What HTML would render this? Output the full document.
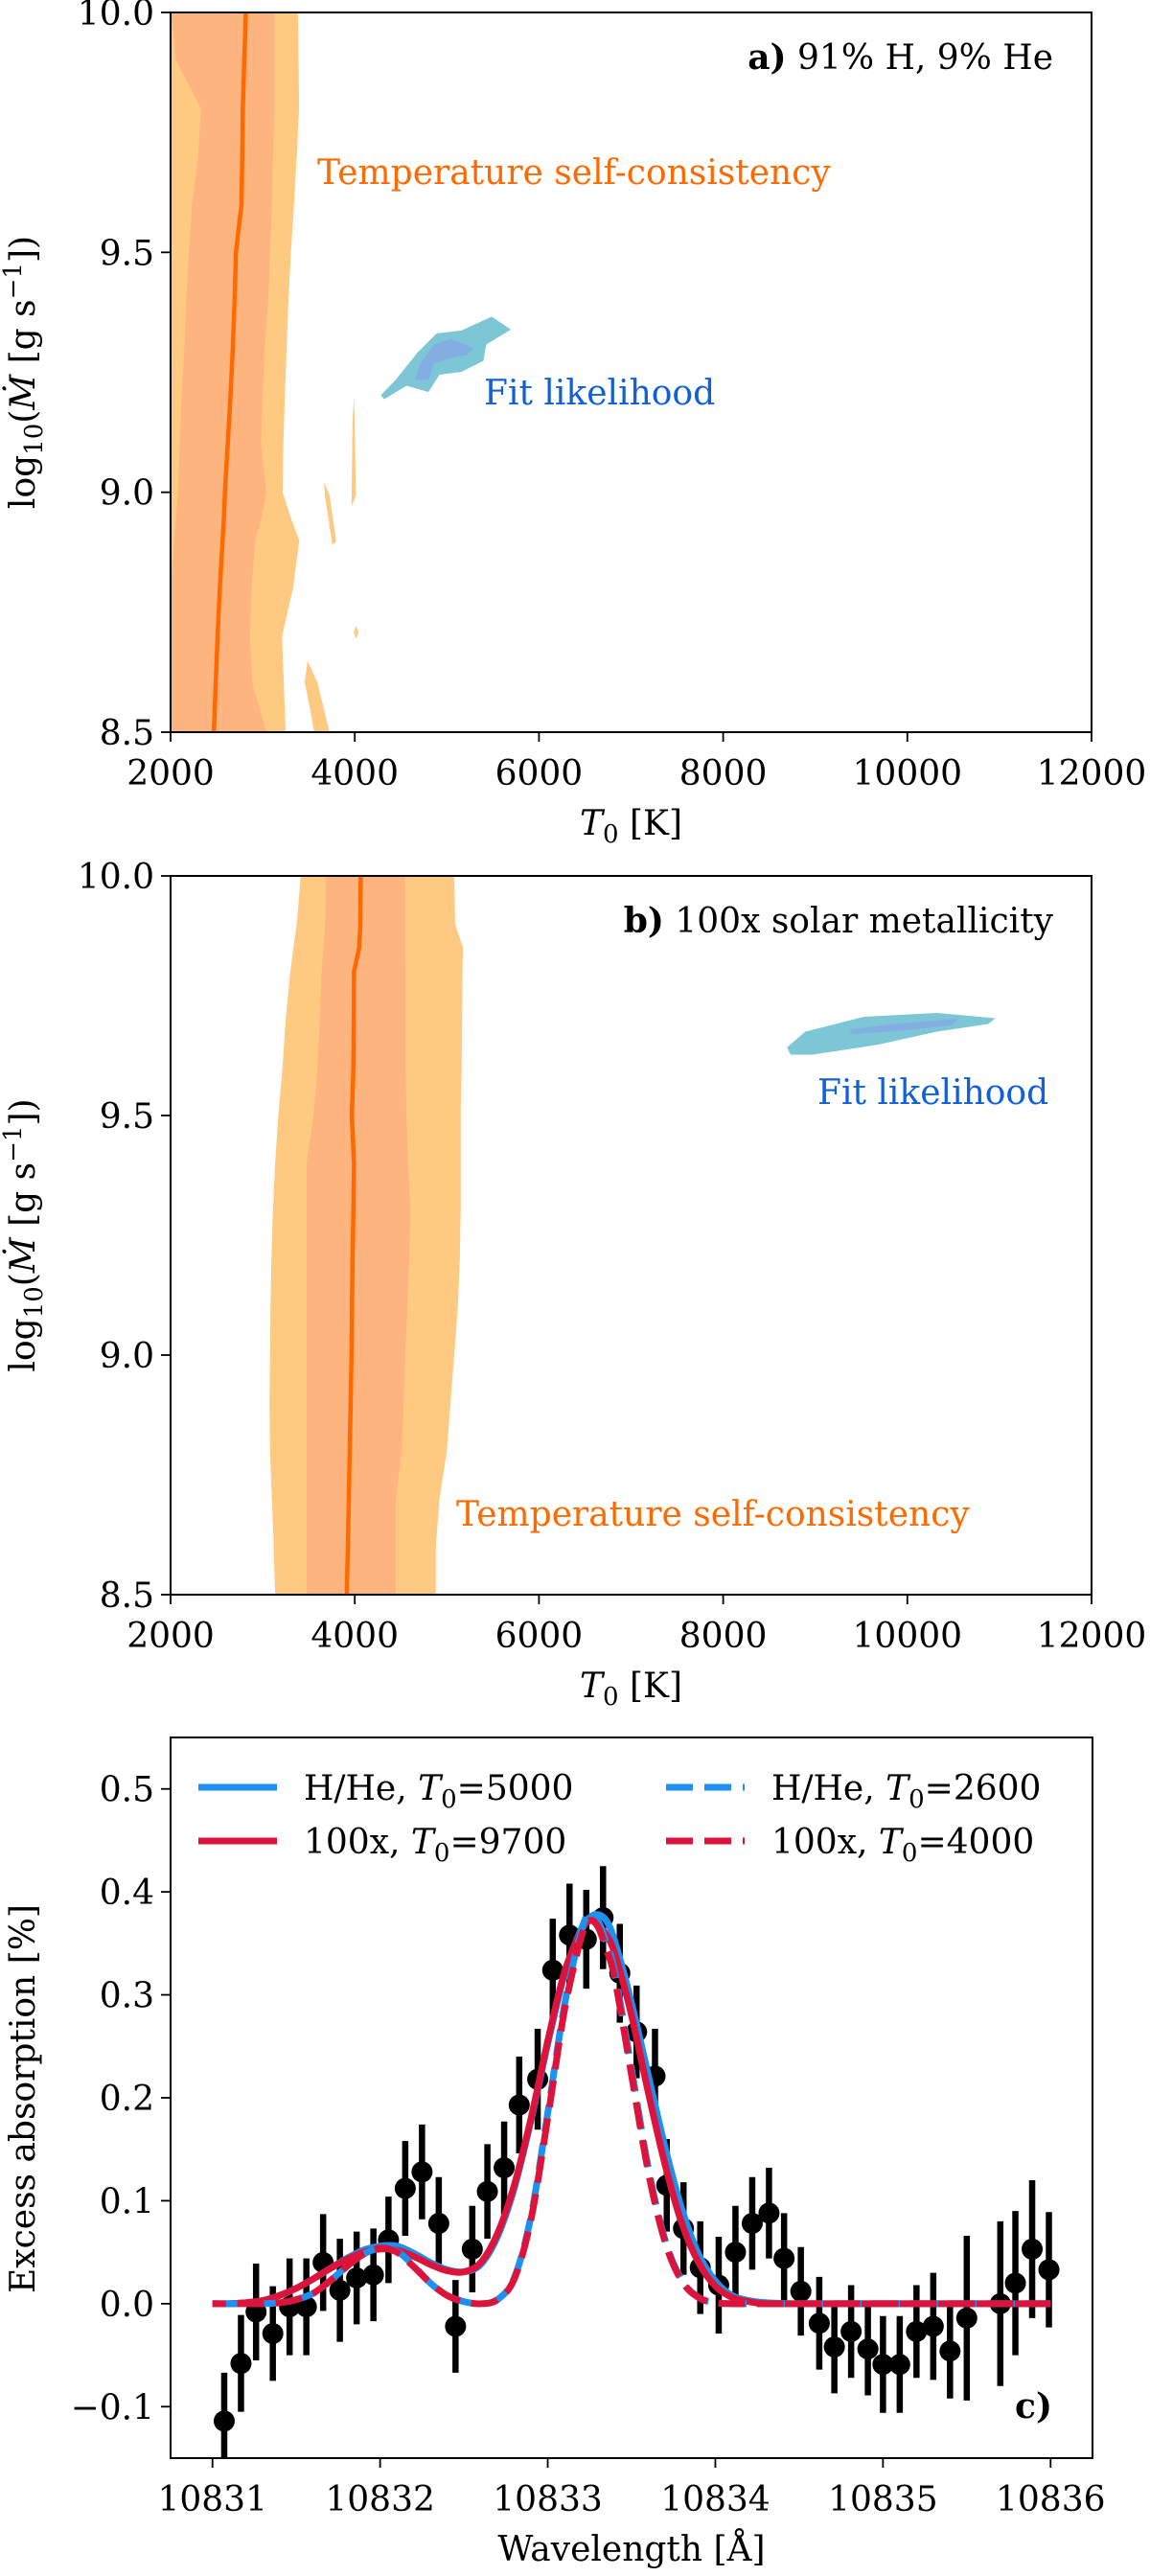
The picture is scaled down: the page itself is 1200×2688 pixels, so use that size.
<!DOCTYPE html>
<html><head><meta charset="utf-8"><style>
html,body{margin:0;padding:0;background:#fff}
svg{display:block}
text{font-family:"DejaVu Serif","Liberation Serif",serif;fill:#000}
</style></head><body>
<svg id="fig" xmlns="http://www.w3.org/2000/svg" width="1200" height="2688" viewBox="0 0 1200 2688">
<rect width="1200" height="2688" fill="#fff"/>
<g id="pa"></g>
<g id="pb"></g>
<g id="pc"></g>
</svg>
<script>
// ---------- Panel a data ----------
const aLevels = [10, 9.9, 9.8, 9.7, 9.6, 9.5, 9.4, 9.3, 9.2, 9.1, 9.0, 8.95, 8.9, 8.8, 8.7, 8.6, 8.5];
const aCenter = [2818, 2800, 2785, 2778, 2770, 2710, 2695, 2675, 2650, 2620, 2590, 2580, 2565, 2535, 2510, 2490, 2470];
const aDarkLeft = [2000, 2060, 2330, 2300, 2233, 2200, 2170, 2150, 2120, 2100, 2080, 2060, 2040, 2000, 2000, 2000, 2000];
const aDarkRight = [3128, 3128, 3128, 3110, 3100, 3080, 3060, 3020, 3000, 2980, 3040, 2990, 2920, 2880, 2860, 2890, 3040];
const aLightLeft = [2000, 2000, 2000, 2000, 2000, 2000, 2000, 2000, 2000, 2000, 2000, 2000, 2000, 2000, 2000, 2000, 2000];
const aLightRight = [3385, 3390, 3395, 3370, 3340, 3307, 3280, 3260, 3240, 3225, 3218, 3300, 3397, 3330, 3210, 3230, 3250];
const aIslandsT = [[3666, 3726, 3798, 3756, 3678], [3994, 4012, 3965, 3976], [3487, 3595, 3726, 3559, 3517, 3457], [3990, 4012, 4040, 4012]];
const aIslandsM = [[9.022, 8.994, 8.897, 8.891, 8.989], [9.200, 8.993, 8.970, 9.154], [8.649, 8.603, 8.5, 8.5, 8.546, 8.603], [8.708, 8.722, 8.708, 8.694]];
const aBlobOuterT = [4281, 4442, 4681, 4890, 5158, 5486, 5695, 5427, 5397, 5158, 4919, 4800, 4561, 4322];
const aBlobOuterM = [9.202, 9.234, 9.291, 9.331, 9.337, 9.366, 9.339, 9.308, 9.274, 9.251, 9.245, 9.209, 9.222, 9.194];
const aBlobInnerT = [4651, 4710, 4860, 5039, 5289, 5218, 5039, 4860, 4800];
const aBlobInnerM = [9.234, 9.268, 9.308, 9.320, 9.300, 9.286, 9.280, 9.268, 9.234];
// ---------- Panel b data ----------
const bLevels = [10, 9.9, 9.85, 9.8, 9.7, 9.6, 9.5, 9.4, 9.3, 9.2, 9.1, 9.0, 8.9, 8.8, 8.7, 8.6, 8.5];
const bCenter = [4063, 4060, 4048, 3992, 3990, 3985, 3968, 3992, 3985, 3975, 3970, 3965, 3955, 3945, 3935, 3925, 3913];
const bDarkLeft = [3690, 3680, 3660, 3640, 3620, 3596, 3550, 3477, 3477, 3477, 3477, 3477, 3477, 3477, 3477, 3477, 3477];
const bDarkRight = [4548, 4548, 4548, 4550, 4552, 4553, 4560, 4580, 4604, 4590, 4570, 4548, 4530, 4510, 4445, 4445, 4445];
const bLightLeft = [3413, 3370, 3334, 3300, 3250, 3215, 3170, 3135, 3110, 3095, 3085, 3080, 3075, 3080, 3100, 3120, 3135];
const bLightRight = [5080, 5090, 5175, 5170, 5165, 5160, 5150, 5150, 5150, 5140, 5120, 5080, 5040, 5000, 4920, 4880, 4880];
const bBlobOuterT = [8693, 8892, 9527, 10321, 10956, 10877, 10321, 9686, 8971, 8733];
const bBlobOuterM = [9.642, 9.675, 9.706, 9.714, 9.703, 9.691, 9.675, 9.648, 9.627, 9.627];
const bBlobInnerT = [9368, 9845, 10560, 10480, 9885, 9408];
const bBlobInnerM = [9.679, 9.691, 9.702, 9.688, 9.676, 9.670];
const mTicks = [8.5, 9.0, 9.5, 10.0];
const mTickLabels = ["8.5", "9.0", "9.5", "10.0"];
const tTicks = [2000, 4000, 6000, 8000, 10000, 12000];
const tTickLabels = ["2000", "4000", "6000", "8000", "10000", "12000"];
// ---------- Panel c data ----------
const cWave = [10831.07,10831.17,10831.26,10831.36,10831.46,10831.56,10831.66,10831.76,10831.86,10831.96,10832.05,10832.15,10832.25,10832.35,10832.45,10832.55,10832.64,10832.74,10832.83,10832.94,10833.03,10833.13,10833.23,10833.33,10833.43,10833.53,10833.64,10833.71,10833.81,10833.91,10834.02,10834.12,10834.22,10834.32,10834.41,10834.51,10834.62,10834.71,10834.81,10834.91,10835.00,10835.10,10835.20,10835.30,10835.40,10835.50,10835.70,10835.79,10835.89,10835.99];
const cAbs = [-0.114,-0.058,-0.008,-0.029,-0.003,-0.003,0.040,0.013,0.025,0.028,0.062,0.112,0.128,0.078,-0.022,0.053,0.109,0.132,0.193,0.218,0.324,0.358,0.354,0.375,0.321,0.264,0.221,0.115,0.073,0.035,0.018,0.050,0.078,0.088,0.044,0.012,-0.019,-0.042,-0.027,-0.044,-0.059,-0.059,-0.027,-0.022,-0.046,-0.014,0.000,0.020,0.053,0.033];
const cErr = [0.047,0.047,0.047,0.046,0.047,0.047,0.047,0.05,0.045,0.045,0.042,0.046,0.046,0.045,0.045,0.042,0.046,0.045,0.047,0.049,0.05,0.05,0.048,0.05,0.048,0.045,0.046,0.045,0.045,0.045,0.047,0.045,0.045,0.044,0.044,0.043,0.045,0.045,0.045,0.045,0.047,0.047,0.045,0.052,0.046,0.08,0.08,0.07,0.067,0.056];
const modelWave = [10831.0,10831.1,10831.2,10831.3,10831.4,10831.5,10831.6,10831.7,10831.8,10831.9,10832.0,10832.1,10832.2,10832.3,10832.4,10832.5,10832.6,10832.7,10832.8,10832.9,10833.0,10833.1,10833.2,10833.25,10833.3,10833.35,10833.4,10833.5,10833.6,10833.7,10833.8,10833.9,10834.0,10834.1,10834.2,10834.3,10834.5,10835.0,10835.5,10836.0];
const heSolid = [0,0,0.001,0.003,0.008,0.015,0.024,0.034,0.044,0.052,0.056,0.056,0.049,0.040,0.033,0.031,0.038,0.065,0.112,0.178,0.252,0.320,0.364,0.375,0.378,0.372,0.352,0.292,0.222,0.152,0.092,0.048,0.022,0.008,0.003,0.001,0,0,0,0];
const metSolid = [0,0,0.001,0.003,0.008,0.015,0.024,0.034,0.043,0.050,0.053,0.052,0.046,0.038,0.032,0.031,0.040,0.068,0.115,0.180,0.255,0.322,0.362,0.372,0.368,0.358,0.340,0.280,0.205,0.135,0.078,0.040,0.017,0.006,0.002,0,0,0,0,0];
const heDash = [0,0,0,0,0.001,0.004,0.010,0.022,0.036,0.048,0.054,0.051,0.037,0.020,0.008,0.002,0.0,0.004,0.025,0.085,0.185,0.290,0.362,0.378,0.372,0.350,0.322,0.228,0.132,0.062,0.023,0.006,0.001,0,0,0,0,0,0,0];
const metDash = [0,0,0,0,0.001,0.004,0.010,0.022,0.036,0.048,0.054,0.050,0.036,0.020,0.008,0.002,0.0,0.004,0.024,0.082,0.180,0.285,0.356,0.372,0.366,0.344,0.316,0.222,0.128,0.060,0.022,0.006,0.001,0,0,0,0,0,0,0];
const cYTicks = [-0.1, 0.0, 0.1, 0.2, 0.3, 0.4, 0.5];
const cYTickLabels = ["\u22120.1", "0.0", "0.1", "0.2", "0.3", "0.4", "0.5"];
const cXTicks = [10831, 10832, 10833, 10834, 10835, 10836];
const cXTickLabels = ["10831", "10832", "10833", "10834", "10835", "10836"];

const NS = "http://www.w3.org/2000/svg";
function mk(parent, tag, attrs) {
  const e = document.createElementNS(NS, tag);
  for (const k in attrs) e.setAttribute(k, attrs[k]);
  parent.appendChild(e);
  return e;
}
function lin(d0, d1, r0, r1) { return v => r0 + (v - d0) / (d1 - d0) * (r1 - r0); }

const LIGHT = "#fec981", DARK = "#fdb47f", ORANGE = "#ff6a00", BLUE1 = "#7dc6d6", BLUE2 = "#82aee2";

function polyPts(ts, ms, X, Y) { return ts.map((t, i) => X(t).toFixed(1) + "," + Y(ms[i]).toFixed(1)).join(" "); }
function bandPts(levels, left, right, X, Y) {
  const pts = [];
  for (let i = 0; i < levels.length; i++) pts.push(X(left[i]).toFixed(1) + "," + Y(levels[i]).toFixed(1));
  for (let i = levels.length - 1; i >= 0; i--) pts.push(X(right[i]).toFixed(1) + "," + Y(levels[i]).toFixed(1));
  return pts.join(" ");
}

function contourPanel(g, ax, d) {
  const X = lin(2000, 12000, ax.x0, ax.x1), Y = lin(8.5, 10, ax.y1, ax.y0);
  const clipId = "clip" + ax.id;
  const defs = mk(g, "defs", {});
  const cp = mk(defs, "clipPath", {id: clipId});
  mk(cp, "rect", {x: ax.x0, y: ax.y0, width: ax.x1 - ax.x0, height: ax.y1 - ax.y0});
  const pg = mk(g, "g", {"clip-path": "url(#" + clipId + ")"});
  
  
  let e = mk(pg, "polygon", {points: bandPts(d.levels, d.lightL, d.lightR, X, Y), fill: LIGHT});
  
  
  if (d.islT) d.islT.forEach((ts, i) => {
    const p = mk(pg, "polygon", {points: polyPts(ts, d.islM[i], X, Y), fill: LIGHT});
    
    
  });
  e = mk(pg, "polygon", {points: bandPts(d.levels, d.darkL, d.darkR, X, Y), fill: DARK});
  
  
  e = mk(pg, "polyline", {points: polyPts(d.center, d.levels, X, Y), fill: "none", stroke: ORANGE, "stroke-width": 4.5});
  
  
  e = mk(pg, "polygon", {points: polyPts(d.boT, d.boM, X, Y), fill: BLUE1});
  
  
  e = mk(pg, "polygon", {points: polyPts(d.biT, d.biM, X, Y), fill: BLUE2});
  
  
  e = mk(g, "rect", {x: ax.x0, y: ax.y0, width: ax.x1 - ax.x0, height: ax.y1 - ax.y0, fill: "none", stroke: "#000", "stroke-width": 2});
  
  
  tTicks.forEach((t, i) => {
    const x = X(t);
    let l = mk(g, "line", {x1: x, x2: x, y1: ax.y1, y2: ax.y1 + 10, stroke: "#000", "stroke-width": 1.8});
    
    
    let tx = mk(g, "text", {x: x, y: ax.y1 + 55, "font-size": 36, "text-anchor": "middle"});
    tx.textContent = tTickLabels[i];
    
    
  });
  mTicks.forEach((m, i) => {
    const y = Y(m);
    let l = mk(g, "line", {x1: ax.x0 - 10, x2: ax.x0, y1: y, y2: y, stroke: "#000", "stroke-width": 1.8});
    
    
    let tx = mk(g, "text", {x: ax.x0 - 17, y: y + 13, "font-size": 36, "text-anchor": "end"});
    tx.textContent = mTickLabels[i];
    
    
  });
  let xl = mk(g, "text", {x: (ax.x0 + ax.x1) / 2, y: ax.y1 + 107, "font-size": 36, "text-anchor": "middle"});
  xl.innerHTML = '<tspan font-style="italic">T</tspan><tspan font-size="26" dy="8">0</tspan><tspan dy="-8"> [K]</tspan>';
  
  
  const cy = (ax.y0 + ax.y1) / 2;
  let yl = mk(g, "text", {x: 0, y: 0, "font-size": 36, "text-anchor": "middle", transform: "translate(36," + cy + ") rotate(-90)"});
  yl.innerHTML = 'log<tspan font-size="26" dy="8">10</tspan><tspan dy="-8">(</tspan><tspan font-style="italic">\u1E40</tspan> [g s<tspan font-size="26" dy="-14">\u22121</tspan><tspan dy="14">])</tspan>';
  
  
  let t1 = mk(g, "text", {x: 1099, y: d.titleY, "font-size": 36, "text-anchor": "end"});
  t1.innerHTML = '<tspan font-weight="bold">' + d.tag + '</tspan> ' + d.title;
  
  
  let t2 = mk(g, "text", {x: d.tempX, y: d.tempY, "font-size": 36, fill: "#ff6a00", style: "fill:#ff6a00"});
  t2.textContent = "Temperature self-consistency";
  
  
  let t3 = mk(g, "text", {x: d.fitX, y: d.fitY, "font-size": 36, style: "fill:#1060d8"});
  t3.textContent = "Fit likelihood";
  
  
}

contourPanel(document.getElementById("pa"), {id: "a", x0: 178, x1: 1139, y0: 13, y1: 764},
  {levels: aLevels, center: aCenter, darkL: aDarkLeft, darkR: aDarkRight, lightL: aLightLeft, lightR: aLightRight,
   islT: aIslandsT, islM: aIslandsM, boT: aBlobOuterT, boM: aBlobOuterM, biT: aBlobInnerT, biM: aBlobInnerM,
   tag: "a)", title: "91% H, 9% He", titleY: 72, tempX: 331, tempY: 192, fitX: 505, fitY: 422});
contourPanel(document.getElementById("pb"), {id: "b", x0: 178, x1: 1139, y0: 914, y1: 1664},
  {levels: bLevels, center: bCenter, darkL: bDarkLeft, darkR: bDarkRight, lightL: bLightLeft, lightR: bLightRight,
   boT: bBlobOuterT, boM: bBlobOuterM, biT: bBlobInnerT, biM: bBlobInnerM,
   tag: "b)", title: "100x solar metallicity", titleY: 973, tempX: 476, tempY: 1592, fitX: 853, fitY: 1152});

// ---------- Panel c ----------
(function () {
  const g = document.getElementById("pc");
  const ax = {x0: 178, x1: 1140, y0: 1813, y1: 2565};
  const X = lin(10830.75, 10836.25, ax.x0, ax.x1), Y = lin(-0.15, 0.55, ax.y1, ax.y0);
  const defs = mk(g, "defs", {});
  const cp = mk(defs, "clipPath", {id: "clipc"});
  mk(cp, "rect", {x: ax.x0, y: ax.y0, width: ax.x1 - ax.x0, height: ax.y1 - ax.y0});
  const pg = mk(g, "g", {"clip-path": "url(#clipc)"});
  
  
  cWave.forEach((w, i) => {
    const x = X(w);
    let l = mk(pg, "line", {x1: x, x2: x, y1: Y(cAbs[i] - cErr[i]), y2: Y(cAbs[i] + cErr[i]), stroke: "#000", "stroke-width": 6.5});
    
    
    let c = mk(pg, "circle", {cx: x, cy: Y(cAbs[i]), r: 11, fill: "#000"});
    
    
  });
  function spline(vals) {
    const p = modelWave.map((w, i) => [X(w), Y(vals[i])]);
    let d = "M" + p[0][0].toFixed(1) + "," + p[0][1].toFixed(1);
    for (let i = 0; i < p.length - 1; i++) {
      const p0 = p[Math.max(0, i - 1)], p1 = p[i], p2 = p[i + 1], p3 = p[Math.min(p.length - 1, i + 2)];
      const c1x = p1[0] + (p2[0] - p0[0]) / 6, c1y = p1[1] + (p2[1] - p0[1]) / 6;
      const c2x = p2[0] - (p3[0] - p1[0]) / 6, c2y = p2[1] - (p3[1] - p1[1]) / 6;
      d += " C" + c1x.toFixed(1) + "," + c1y.toFixed(1) + " " + c2x.toFixed(1) + "," + c2y.toFixed(1) + " " + p2[0].toFixed(1) + "," + p2[1].toFixed(1);
    }
    return d;
  }
  const BL = "#1e90f0", RD = "#dc143c";
  let e = mk(pg, "path", {d: spline(heSolid), fill: "none", stroke: BL, "stroke-width": 7});
  
  
  e = mk(pg, "path", {d: spline(metSolid), fill: "none", stroke: RD, "stroke-width": 7});
  
  
  e = mk(pg, "path", {d: spline(heDash), fill: "none", stroke: BL, "stroke-width": 7, "stroke-dasharray": "28 12"});
  
  
  e = mk(pg, "path", {d: spline(metDash), fill: "none", stroke: RD, "stroke-width": 7, "stroke-dasharray": "28 12", "stroke-dashoffset": 14});
  
  
  e = mk(g, "rect", {x: ax.x0, y: ax.y0, width: ax.x1 - ax.x0, height: ax.y1 - ax.y0, fill: "none", stroke: "#000", "stroke-width": 2});
  
  
  cXTicks.forEach((t, i) => {
    const x = X(t);
    let l = mk(g, "line", {x1: x, x2: x, y1: ax.y1, y2: ax.y1 + 10, stroke: "#000", "stroke-width": 1.8});
    
    
    let tx = mk(g, "text", {x: x, y: ax.y1 + 55, "font-size": 36, "text-anchor": "middle"});
    tx.textContent = cXTickLabels[i];
    
    
  });
  cYTicks.forEach((v, i) => {
    const y = Y(v);
    let l = mk(g, "line", {x1: ax.x0 - 10, x2: ax.x0, y1: y, y2: y, stroke: "#000", "stroke-width": 1.8});
    
    
    let tx = mk(g, "text", {x: ax.x0 - 17, y: y + 13, "font-size": 36, "text-anchor": "end"});
    tx.textContent = cYTickLabels[i];
    
    
  });
  let xl = mk(g, "text", {x: (ax.x0 + ax.x1) / 2, y: 2672, "font-size": 36, "text-anchor": "middle"});
  xl.textContent = "Wavelength [\u00C5]";
  
  
  let yl = mk(g, "text", {x: 0, y: 0, "font-size": 36, "text-anchor": "middle", transform: "translate(36,2190) rotate(-90)"});
  yl.textContent = "Excess absorption [%]";
  
  
  let ct = mk(g, "text", {x: 1098, y: 2523, "font-size": 36, "text-anchor": "end", "font-weight": "bold"});
  ct.textContent = "c)";
  
  
  const leg = mk(g, "g", {});
  
  
  const entries = [
    {x: 207, y: 1865, c: BL, dash: null, lab: "H/He, ", val: "5000"},
    {x: 695, y: 1865, c: BL, dash: "28 12", lab: "H/He, ", val: "2600"},
    {x: 207, y: 1921, c: RD, dash: null, lab: "100x, ", val: "9700"},
    {x: 695, y: 1921, c: RD, dash: "28 12", lab: "100x, ", val: "4000"}
  ];
  entries.forEach(en => {
    const eg = mk(leg, "g", {});
    
    
    const a = {x1: en.x, x2: en.x + 82, y1: en.y, y2: en.y, stroke: en.c, "stroke-width": 7};
    if (en.dash) a["stroke-dasharray"] = en.dash;
    mk(eg, "line", a);
    const t = mk(eg, "text", {x: en.x + 110, y: en.y + 13, "font-size": 36});
    t.innerHTML = en.lab + '<tspan font-style="italic">T</tspan><tspan font-size="26" dy="8">0</tspan><tspan dy="-8">=' + en.val + '</tspan>';
  });
})();
</script>
</body></html>
